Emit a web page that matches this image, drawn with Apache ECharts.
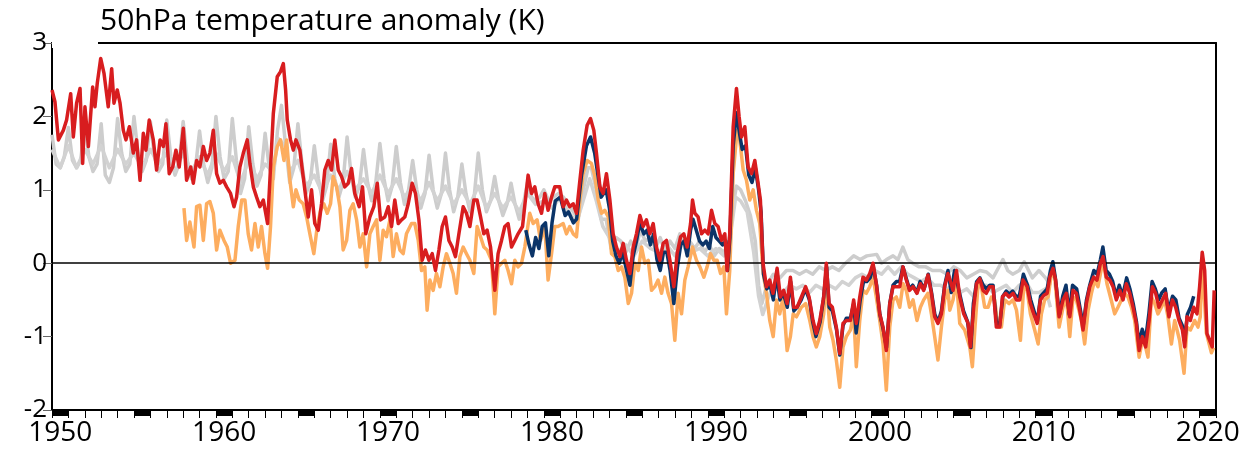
<!DOCTYPE html>
<html>
<head>
<meta charset="utf-8">
<script src="https://cdn.jsdelivr.net/npm/echarts@6/dist/echarts.min.js"></script>
<style>
  html, body { margin: 0; padding: 0; background: #fff; }
  #chart { width: 1243px; height: 459px; }
</style>
</head>
<body>
<div id="chart"></div>
<script>
// [decimal year, anomaly K]
// reanalysis with strong seasonal cycle
const grayRefA = [
  [1950.0,1.75],[1950.25,1.35],[1950.5,1.3],[1950.75,1.45],
  [1951.0,1.85],[1951.25,1.4],[1951.5,1.3],[1951.75,1.4],
  [1952.0,1.9],[1952.25,1.45],[1952.5,1.25],[1952.75,1.35],
  [1953.0,1.9],[1953.25,1.2],[1953.5,1.1],[1953.75,1.3],
  [1954.0,1.97],[1954.25,1.5],[1954.5,1.25],[1954.75,1.35],
  [1955.0,2.0],[1955.25,1.5],[1955.5,1.25],[1955.75,1.4],
  [1956.0,1.93],[1956.25,1.45],[1956.5,1.25],[1956.75,1.35],
  [1957.0,1.95],[1957.25,1.45],[1957.5,1.2],[1957.75,1.35],
  [1958.0,1.93],[1958.25,1.4],[1958.5,1.15],[1958.75,1.3],
  [1959.0,1.8],[1959.25,1.35],[1959.5,1.1],[1959.75,1.3],
  [1960.0,2.0],[1960.25,1.45],[1960.5,1.15],[1960.75,1.25],
  [1961.0,1.97],[1961.25,1.4],[1961.5,0.95],[1961.75,1.15],
  [1962.0,1.86],[1962.25,1.35],[1962.5,1.05],[1962.75,1.2],
  [1963.0,1.77],[1963.25,1.3],[1963.5,1.15],[1963.75,1.8],
  [1964.0,2.15],[1964.25,1.6],[1964.5,1.1],[1964.75,1.3],
  [1965.0,1.9],[1965.25,1.35],[1965.5,0.95],[1965.75,1.1],
  [1966.0,1.6],[1966.25,1.15],[1966.5,0.85],[1966.75,1.05],
  [1967.0,1.62],[1967.25,1.15],[1967.5,0.9],[1967.75,1.1],
  [1968.0,1.72],[1968.25,1.2],[1968.5,0.9],[1968.75,1.05],
  [1969.0,1.55],[1969.25,1.1],[1969.5,0.85],[1969.75,1.1],
  [1970.0,1.63],[1970.25,1.15],[1970.5,0.85],[1970.75,1.05],
  [1971.0,1.59],[1971.25,1.1],[1971.5,0.8],[1971.75,1.0],
  [1972.0,1.4],[1972.25,1.0],[1972.5,0.75],[1972.75,0.95],
  [1973.0,1.47],[1973.25,1.0],[1973.5,0.75],[1973.75,0.95],
  [1974.0,1.5],[1974.25,1.0],[1974.5,0.7],[1974.75,0.9],
  [1975.0,1.35],[1975.25,0.95],[1975.5,0.7],[1975.75,0.9],
  [1976.0,1.5],[1976.25,1.0],[1976.5,0.7],[1976.75,0.85],
  [1977.0,1.18],[1977.25,0.85],[1977.5,0.65],[1977.75,0.8],
  [1978.0,1.09],[1978.25,0.8],[1978.5,0.6],[1978.75,0.8],
  [1979.0,1.1],[1979.25,0.9],[1979.5,0.85],[1979.75,0.9],
  [1980.0,1.0],[1980.3,0.85],[1980.6,0.9],[1980.9,0.95],
  [1981.2,0.9],[1981.5,0.8],[1981.8,0.7],[1982.1,0.6],
  [1982.4,1.0],[1982.7,1.3],[1982.9,1.3],[1983.2,1.0],
  [1983.5,0.6],[1983.8,0.6],[1984.1,0.2],[1984.4,0.35],
  [1984.7,0.3],[1985.0,0.15],[1985.3,0.3],[1985.6,0.2],
  [1985.9,0.45],[1986.2,0.3],[1986.5,0.35],[1986.8,0.2],
  [1987.1,0.35],[1987.4,0.15],[1987.7,0.3],[1988.0,0.2],
  [1988.3,0.4],[1988.6,0.2],[1988.9,0.3],[1989.2,0.2],
  [1989.5,0.3],[1989.8,0.15],[1990.1,0.25],[1990.4,0.1],
  [1990.7,0.2],[1991.0,0.15],[1991.3,0.3],[1991.55,0.8],
  [1991.75,1.05],[1992.0,1.0],[1992.3,0.85],[1992.6,0.65],
  [1992.9,0.3],[1993.1,-0.3],[1993.3,-0.55],[1993.6,-0.3],
  [1994.0,-0.15],[1994.4,-0.2],[1994.8,-0.1],[1995.2,-0.1],
  [1995.6,-0.15],[1996.0,-0.1],[1996.4,-0.15],[1996.8,-0.05],
  [1997.2,-0.1],[1997.6,-0.05],[1998.0,-0.1],[1998.4,0.0],
  [1998.9,0.1],[1999.3,0.05],[1999.7,0.1],[2000.3,0.12],
  [2000.6,0.0],[2000.9,0.05],[2001.3,0.1],[2001.6,0.05],
  [2001.9,0.22],[2002.2,0.05],[2002.5,0.0],[2002.9,-0.05],
  [2003.3,-0.05],[2003.7,-0.1],[2004.2,-0.1],[2004.6,-0.15],
  [2005.0,-0.05],[2005.4,-0.1],[2005.8,-0.2],[2006.2,-0.15],
  [2006.6,-0.1],[2007.0,-0.12],[2007.4,-0.2],[2008.0,0.05],
  [2008.3,-0.1],[2008.6,-0.15],[2009.0,-0.1],[2009.3,0.02],
  [2009.8,-0.2],[2010.2,-0.1],[2010.6,-0.2],[2010.9,-0.3]
];

// second reanalysis, smoother
const grayRefB = [
  [1950.0,1.55],[1950.5,1.3],[1951.0,1.6],[1951.5,1.3],[1952.0,1.55],
  [1952.5,1.35],[1953.0,1.6],[1953.5,1.3],[1954.0,1.55],[1954.5,1.35],
  [1955.0,1.5],[1955.5,1.3],[1956.0,1.55],[1956.5,1.35],[1957.0,1.5],
  [1957.5,1.25],[1958.0,1.5],[1958.5,1.25],[1959.0,1.45],[1959.5,1.2],
  [1960.0,1.5],[1960.5,1.25],[1961.0,1.45],[1961.5,1.1],[1962.0,1.4],
  [1962.5,1.15],[1963.0,1.35],[1963.5,1.25],[1963.8,1.7],[1964.2,1.6],
  [1964.5,1.25],[1965.0,1.4],[1965.5,1.05],[1966.0,1.2],[1966.5,0.95],
  [1967.0,1.2],[1967.5,1.0],[1968.0,1.25],[1968.5,1.0],[1969.0,1.15],
  [1969.5,0.95],[1970.0,1.2],[1970.5,0.95],[1971.0,1.15],[1971.5,0.9],
  [1972.0,1.05],[1972.5,0.85],[1973.0,1.1],[1973.5,0.85],[1974.0,1.05],
  [1974.5,0.8],[1975.0,1.0],[1975.5,0.8],[1976.0,1.05],[1976.5,0.75],
  [1977.0,0.95],[1977.5,0.75],[1978.0,0.9],[1978.5,0.7],[1979.0,0.95],
  [1979.5,0.8],[1980.0,0.85],[1980.5,0.75],[1981.0,0.9],[1981.5,0.7],
  [1982.0,0.55],[1982.4,0.85],[1982.8,1.15],[1983.2,0.85],[1983.6,0.5],
  [1984.0,0.35],[1984.5,0.15],[1985.0,0.25],[1985.5,0.1],[1986.0,0.3],
  [1986.5,0.2],[1987.0,0.15],[1987.5,0.25],[1988.0,0.1],[1988.5,0.3],
  [1989.0,0.15],[1989.5,0.2],[1990.0,0.1],[1990.5,0.2],[1991.0,0.1],
  [1991.4,0.4],[1991.7,0.9],[1992.0,0.85],[1992.4,0.7],[1992.8,0.15],
  [1993.1,-0.45],[1993.35,-0.7],[1993.8,-0.4],[1994.2,-0.35],[1994.6,-0.4],
  [1995.0,-0.3],[1995.4,-0.35],[1995.8,-0.3],[1996.2,-0.4],[1996.6,-0.3],
  [1997.0,-0.35],[1997.4,-0.3],[1997.8,-0.35],[1998.2,-0.25],[1998.6,-0.3],
  [1999.0,-0.2],[1999.4,-0.15],[1999.8,-0.2],[2000.2,-0.1],[2000.6,-0.15],
  [2001.0,-0.05],[2001.4,-0.15],[2001.8,-0.05],[2002.2,-0.15],[2002.6,-0.2],
  [2003.0,-0.25],[2003.4,-0.2],[2003.8,-0.3],[2004.2,-0.3],[2004.6,-0.35],
  [2005.0,-0.3],[2005.4,-0.4],[2005.8,-0.35],[2006.2,-0.45],[2006.6,-0.3],
  [2007.0,-0.3],[2007.4,-0.4],[2007.8,-0.35],[2008.2,-0.3],[2008.6,-0.4],
  [2009.0,-0.3],[2009.4,-0.25],[2009.8,-0.4],[2010.2,-0.4],[2010.6,-0.35],
  [2010.9,-0.6]
];

const orangeSeries = [
  [1958.05,0.75],[1958.21,0.31],[1958.41,0.56],[1958.66,0.22],[1958.82,0.77],
  [1959.02,0.79],[1959.23,0.31],[1959.43,0.81],[1959.63,0.84],[1959.84,0.68],
  [1960.04,0.18],[1960.24,0.45],[1960.49,0.31],[1960.69,0.22],[1960.89,0.0],
  [1961.16,0.04],[1961.36,0.5],[1961.57,0.86],[1961.77,0.86],[1961.97,0.4],
  [1962.17,0.18],[1962.38,0.54],[1962.58,0.22],[1962.78,0.5],[1962.99,0.13],
  [1963.15,-0.07],[1963.33,0.5],[1963.5,1.31],[1963.74,1.59],[1963.94,1.68],
  [1964.15,1.4],[1964.31,1.68],[1964.51,1.13],[1964.72,0.77],[1964.88,1.0],
  [1965.08,0.86],[1965.32,0.81],[1965.53,0.63],[1965.73,0.4],[1965.97,0.13],
  [1966.18,0.5],[1966.38,0.72],[1966.58,0.81],[1966.79,0.68],[1966.99,0.81],
  [1967.15,1.18],[1967.36,1.04],[1967.56,0.77],[1967.76,0.18],[1967.97,0.31],
  [1968.17,0.72],[1968.37,0.81],[1968.58,0.59],[1968.78,0.22],[1968.98,0.4],
  [1969.19,-0.05],[1969.39,0.4],[1969.59,0.5],[1969.8,0.59],[1970.0,0.04],
  [1970.2,0.45],[1970.4,0.36],[1970.61,0.59],[1970.81,0.09],[1971.01,0.4],
  [1971.22,0.18],[1971.42,0.13],[1971.62,0.4],[1971.93,0.54],[1972.13,0.54],
  [1972.34,0.31],[1972.54,-0.1],[1972.74,-0.05],[1972.88,-0.64],[1973.05,-0.23],
  [1973.25,-0.37],[1973.45,-0.14],[1973.66,-0.32],[1973.86,-0.05],[1974.06,0.13],
  [1974.27,0.0],[1974.47,-0.14],[1974.67,-0.41],[1974.88,0.09],[1975.08,0.22],
  [1975.28,0.13],[1975.49,0.04],[1975.73,-0.14],[1975.93,0.5],[1976.14,0.36],
  [1976.34,0.22],[1976.54,0.18],[1976.81,0.04],[1977.01,-0.69],[1977.21,-0.05],
  [1977.42,0.0],[1977.62,0.04],[1977.82,-0.1],[1978.03,-0.28],[1978.23,0.04],
  [1978.43,-0.05],[1978.64,0.0],[1978.84,0.22],[1979.14,0.68],[1979.35,0.54],
  [1979.59,0.59],[1979.8,0.31],[1980.06,0.5],[1980.26,-0.23],[1980.47,0.13],
  [1980.67,0.5],[1980.87,0.5],[1981.18,0.54],[1981.38,0.4],[1981.58,0.5],
  [1981.79,0.4],[1981.99,0.36],[1982.2,0.86],[1982.4,1.22],[1982.64,1.4],
  [1982.9,1.36],[1983.1,1.2],[1983.32,0.86],[1983.52,0.68],[1983.72,0.72],
  [1983.93,0.63],[1984.13,0.13],[1984.33,0.09],[1984.54,-0.1],[1984.74,-0.05],
  [1984.94,-0.19],[1985.15,-0.55],[1985.35,-0.41],[1985.55,0.0],[1985.76,-0.1],
  [1985.96,0.22],[1986.16,0.0],[1986.37,0.04],[1986.57,-0.37],[1986.77,-0.32],
  [1986.97,-0.23],[1987.18,-0.41],[1987.38,-0.19],[1987.58,-0.41],[1987.79,-0.55],
  [1987.99,-1.05],[1988.19,-0.41],[1988.4,-0.69],[1988.6,-0.23],[1988.8,-0.05],
  [1989.07,0.22],[1989.31,0.04],[1989.52,-0.05],[1989.76,-0.19],[1989.96,-0.05],
  [1990.17,0.13],[1990.37,0.04],[1990.57,0.04],[1990.78,-0.14],[1990.98,-0.05],
  [1991.14,-0.69],[1991.34,-0.1],[1991.55,1.22],[1991.79,1.81],[1991.95,1.68],
  [1992.16,1.27],[1992.36,1.13],[1992.56,0.86],[1992.77,1.0],[1992.97,0.72],
  [1993.17,0.54],[1993.38,-0.14],[1993.58,-0.41],[1993.78,-0.78],[1993.99,-1.0],
  [1994.19,-0.5],[1994.39,-0.69],[1994.6,-0.46],[1994.84,-1.19],[1995.04,-1.0],
  [1995.21,-0.69],[1995.41,-0.73],[1995.61,-0.64],[1995.71,-0.6],[1995.97,-0.55],
  [1996.22,-0.78],[1996.42,-1.0],[1996.62,-1.14],[1996.83,-1.0],[1997.07,-0.69],
  [1997.23,-0.23],[1997.44,-0.87],[1997.64,-1.05],[1997.84,-1.32],[1998.05,-1.69],
  [1998.25,-1.14],[1998.45,-1.0],[1998.7,-0.91],[1998.9,-0.69],[1999.06,-1.41],
  [1999.27,-0.78],[1999.47,-0.37],[1999.67,-0.41],[1999.88,-0.32],[2000.08,-0.19],
  [2000.28,-0.46],[2000.49,-0.78],[2000.69,-1.1],[2000.89,-1.73],[2001.1,-0.87],
  [2001.3,-0.5],[2001.5,-0.46],[2001.71,-0.6],[2001.91,-0.28],[2002.11,-0.37],
  [2002.31,-0.6],[2002.52,-0.5],[2002.76,-0.78],[2002.97,-0.6],[2003.17,-0.5],
  [2003.43,-0.41],[2003.64,-0.69],[2003.84,-1.0],[2004.04,-1.32],[2004.25,-0.87],
  [2004.45,-0.5],[2004.65,-0.37],[2004.76,-0.64],[2004.96,-0.5],[2005.17,-0.23],
  [2005.37,-0.82],[2005.67,-0.91],[2005.98,-1.14],[2006.14,-1.41],[2006.3,-0.87],
  [2006.49,-0.28],[2006.69,-0.32],[2006.89,-0.6],[2007.1,-0.6],[2007.3,-0.46],
  [2007.5,-0.5],[2007.71,-0.87],[2007.91,-0.87],[2008.11,-0.5],[2008.38,-0.55],
  [2008.62,-0.5],[2008.83,-0.64],[2009.07,-1.05],[2009.27,-0.32],[2009.48,-0.37],
  [2009.68,-0.69],[2009.94,-0.91],[2010.15,-1.1],[2010.35,-0.69],[2010.55,-0.5],
  [2010.76,-0.46],[2010.96,-0.14],[2011.16,-0.19],[2011.43,-0.87],[2011.67,-0.6],
  [2011.87,-0.46],[2012.08,-1.0],[2012.28,-0.46],[2012.48,-0.5],[2012.79,-0.78],
  [2012.99,-1.1],[2013.2,-0.64],[2013.4,-0.41],[2013.6,-0.23],[2013.8,-0.32],
  [2014.11,0.04],[2014.35,-0.28],[2014.56,-0.46],[2014.82,-0.69],[2015.02,-0.6],
  [2015.23,-0.5],[2015.43,-0.41],[2015.63,-0.46],[2015.84,-0.6],[2016.04,-0.78],
  [2016.31,-1.28],[2016.55,-1.0],[2016.85,-1.28],[2017.06,-0.46],[2017.26,-0.55],
  [2017.46,-0.69],[2017.67,-0.6],[2017.87,-0.5],[2018.07,-0.73],[2018.28,-1.1],
  [2018.48,-0.78],[2018.78,-1.05],[2019.05,-1.5],[2019.23,-0.87],[2019.44,-0.91],
  [2019.7,-0.78],[2019.9,-0.87],[2020.04,-0.73],[2020.16,0.05],[2020.41,-0.95],
  [2020.72,-1.22],[2020.86,-1.15]
];

const navySeries = [
  [1978.9,0.45],[1979.1,0.25],[1979.3,0.1],[1979.5,0.35],[1979.7,0.2],
  [1979.9,0.5],[1980.1,0.55],[1980.3,0.1],[1980.5,0.55],[1980.7,0.85],
  [1981.0,0.9],[1981.3,0.65],[1981.5,0.7],[1981.8,0.55],[1982.0,0.6],
  [1982.3,1.2],[1982.6,1.6],[1982.85,1.72],[1983.1,1.5],[1983.3,1.2],
  [1983.5,0.9],[1983.8,1.0],[1984.0,0.75],[1984.2,0.3],[1984.4,0.1],
  [1984.6,0.0],[1984.8,0.15],[1985.0,-0.05],[1985.25,-0.3],[1985.45,0.1],
  [1985.65,0.3],[1985.85,0.55],[1986.1,0.4],[1986.3,0.45],[1986.5,0.25],
  [1986.7,0.4],[1986.9,0.05],[1987.1,-0.1],[1987.3,0.15],[1987.5,0.15],
  [1987.7,-0.1],[1987.93,-0.55],[1988.15,-0.05],[1988.35,0.25],[1988.55,0.3],
  [1988.75,0.1],[1988.95,0.45],[1989.1,0.6],[1989.3,0.45],[1989.5,0.3],
  [1989.7,0.25],[1989.9,0.3],[1990.1,0.2],[1990.3,0.5],[1990.5,0.35],
  [1990.7,0.3],[1990.9,0.25],[1991.1,0.3],[1991.2,-0.1],[1991.35,0.35],
  [1991.55,1.6],[1991.75,2.05],[1991.95,1.75],[1992.1,1.55],[1992.3,1.6],
  [1992.5,1.2],[1992.7,1.1],[1992.9,1.3],[1993.1,1.0],[1993.25,0.7],
  [1993.4,-0.15],[1993.6,-0.35],[1993.8,-0.3],[1994.0,-0.5],[1994.2,-0.15],
  [1994.4,-0.5],[1994.6,-0.4],[1994.85,-0.6],[1995.05,-0.25],[1995.25,-0.65],
  [1995.45,-0.6],[1995.7,-0.5],[1995.95,-0.35],[1996.2,-0.5],[1996.4,-0.8],
  [1996.6,-1.0],[1996.85,-0.8],[1997.05,-0.5],[1997.25,-0.05],[1997.4,-0.6],
  [1997.6,-0.65],[1997.85,-0.9],[1998.05,-1.25],[1998.25,-0.85],[1998.45,-0.75],
  [1998.7,-0.75],[1998.9,-0.55],[1999.05,-0.95],[1999.3,-0.5],[1999.5,-0.25],
  [1999.7,-0.25],[1999.9,-0.2],[2000.1,-0.05],[2000.3,-0.3],[2000.5,-0.7],
  [2000.7,-0.9],[2000.9,-1.15],[2001.1,-0.55],[2001.3,-0.3],[2001.5,-0.25],
  [2001.7,-0.25],[2001.9,-0.05],[2002.1,-0.2],[2002.3,-0.35],[2002.5,-0.3],
  [2002.75,-0.4],[2002.95,-0.25],[2003.2,-0.35],[2003.45,-0.15],[2003.65,-0.4],
  [2003.85,-0.7],[2004.05,-0.8],[2004.25,-0.65],[2004.45,-0.3],[2004.65,-0.1],
  [2004.85,-0.4],[2005.05,-0.1],[2005.35,-0.4],[2005.6,-0.65],[2005.85,-0.8],
  [2006.05,-1.15],[2006.2,-0.55],[2006.4,-0.25],[2006.6,-0.2],[2006.8,-0.3],
  [2007.0,-0.35],[2007.2,-0.3],[2007.4,-0.3],[2007.6,-0.8],[2007.8,-0.85],
  [2008.0,-0.45],[2008.2,-0.38],[2008.4,-0.42],[2008.6,-0.38],[2008.8,-0.45],
  [2009.0,-0.45],[2009.25,-0.15],[2009.5,-0.3],[2009.7,-0.5],[2009.9,-0.65],
  [2010.1,-0.8],[2010.3,-0.45],[2010.5,-0.4],[2010.7,-0.35],[2010.9,-0.1],
  [2011.05,0.02],[2011.2,-0.2],[2011.45,-0.7],[2011.65,-0.45],[2011.85,-0.3],
  [2012.05,-0.7],[2012.25,-0.3],[2012.5,-0.35],[2012.7,-0.6],[2012.9,-0.85],
  [2013.1,-0.5],[2013.3,-0.3],[2013.55,-0.1],[2013.75,-0.15],[2013.95,0.05],
  [2014.1,0.22],[2014.3,-0.1],[2014.5,-0.15],[2014.7,-0.25],[2014.9,-0.45],
  [2015.1,-0.3],[2015.3,-0.45],[2015.55,-0.2],[2015.75,-0.35],[2015.95,-0.55],
  [2016.15,-0.8],[2016.3,-1.1],[2016.5,-0.9],[2016.7,-1.05],[2016.9,-0.7],
  [2017.1,-0.25],[2017.3,-0.35],[2017.5,-0.5],[2017.7,-0.4],[2017.9,-0.35],
  [2018.1,-0.65],[2018.35,-0.45],[2018.55,-0.5],[2018.75,-0.75],[2018.95,-0.85],
  [2019.1,-1.05],[2019.25,-0.7],[2019.45,-0.6],[2019.64,-0.45]
];

const redSeries = [
  [1950.0,2.36],[1950.18,2.2],[1950.39,1.68],[1950.69,1.81],[1950.89,1.95],
  [1951.14,2.31],[1951.3,1.72],[1951.5,2.18],[1951.71,2.38],[1951.87,1.36],
  [1952.01,2.13],[1952.22,1.59],[1952.48,2.4],[1952.62,2.13],[1952.76,2.45],
  [1952.97,2.79],[1953.17,2.59],[1953.43,2.13],[1953.64,2.65],[1953.78,2.18],
  [1953.98,2.36],[1954.15,2.18],[1954.35,1.81],[1954.51,1.68],[1954.72,1.86],
  [1954.96,1.5],[1955.16,1.68],[1955.37,1.13],[1955.57,1.77],[1955.73,1.54],
  [1955.93,1.95],[1956.18,1.68],[1956.38,1.27],[1956.59,1.68],[1956.79,1.59],
  [1956.95,1.9],[1957.15,1.22],[1957.36,1.31],[1957.56,1.54],[1957.76,1.31],
  [1958.01,1.84],[1958.21,1.13],[1958.46,1.31],[1958.62,1.09],[1958.82,1.4],
  [1959.02,1.31],[1959.23,1.59],[1959.43,1.4],[1959.63,1.5],[1959.84,1.81],
  [1960.04,1.22],[1960.24,1.09],[1960.45,1.13],[1960.65,1.04],[1960.89,0.95],
  [1961.1,0.77],[1961.26,0.9],[1961.46,1.31],[1961.67,1.5],[1961.91,1.68],
  [1962.07,1.36],[1962.28,1.04],[1962.48,0.9],[1962.68,0.77],[1962.89,0.86],
  [1963.15,0.54],[1963.29,1.13],[1963.5,2.04],[1963.74,2.54],[1963.94,2.61],
  [1964.11,2.72],[1964.25,2.36],[1964.35,1.95],[1964.55,1.68],[1964.72,1.54],
  [1964.88,1.68],[1965.12,1.54],[1965.32,1.18],[1965.63,0.63],[1965.83,1.0],
  [1966.03,0.54],[1966.24,0.45],[1966.44,0.81],[1966.64,1.27],[1966.85,1.4],
  [1967.05,1.27],[1967.25,1.68],[1967.46,1.27],[1967.66,1.18],[1967.86,1.04],
  [1968.07,1.09],[1968.27,1.29],[1968.47,0.95],[1968.74,0.77],[1968.94,1.04],
  [1969.14,0.4],[1969.39,0.63],[1969.63,0.77],[1969.84,1.09],[1970.04,0.59],
  [1970.3,0.63],[1970.51,0.77],[1970.71,0.5],[1970.91,0.86],[1971.12,0.54],
  [1971.32,0.59],[1971.52,0.63],[1971.73,0.81],[1971.97,1.09],[1972.17,0.95],
  [1972.38,0.59],[1972.58,0.04],[1972.78,0.18],[1972.99,0.04],[1973.19,0.13],
  [1973.39,-0.1],[1973.6,0.18],[1973.8,0.5],[1974.0,0.63],[1974.21,0.31],
  [1974.41,0.22],[1974.61,0.09],[1974.82,0.4],[1975.08,0.77],[1975.28,0.68],
  [1975.49,0.5],[1975.73,0.86],[1975.93,0.86],[1976.14,0.63],[1976.34,0.4],
  [1976.54,0.45],[1976.75,0.22],[1977.01,-0.37],[1977.21,0.13],[1977.42,0.31],
  [1977.62,0.5],[1977.82,0.54],[1978.03,0.22],[1978.23,0.31],[1978.43,0.4],
  [1978.7,0.5],[1979.04,1.2],[1979.25,0.95],[1979.45,1.04],[1979.65,0.81],
  [1979.86,0.68],[1980.06,0.95],[1980.26,0.72],[1980.47,0.9],[1980.67,1.04],
  [1980.97,1.04],[1981.18,0.77],[1981.38,0.86],[1981.58,0.77],[1981.79,0.81],
  [1981.99,0.68],[1982.2,1.13],[1982.4,1.54],[1982.64,1.88],[1982.85,1.97],
  [1983.05,1.81],[1983.21,1.5],[1983.42,1.04],[1983.62,0.95],[1983.82,1.22],
  [1984.03,0.86],[1984.23,0.4],[1984.43,0.22],[1984.64,0.09],[1984.84,0.27],
  [1985.04,0.04],[1985.25,-0.14],[1985.45,0.22],[1985.65,0.4],[1985.86,0.65],
  [1986.06,0.5],[1986.26,0.59],[1986.47,0.4],[1986.67,0.54],[1986.87,0.22],
  [1987.08,0.04],[1987.28,0.27],[1987.48,0.31],[1987.69,0.04],[1987.93,-0.32],
  [1988.13,0.13],[1988.34,0.36],[1988.54,0.4],[1988.74,0.22],[1988.95,0.54],
  [1989.07,0.86],[1989.21,0.68],[1989.41,0.63],[1989.62,0.4],[1989.82,0.45],
  [1990.02,0.4],[1990.23,0.72],[1990.43,0.54],[1990.63,0.5],[1990.84,0.31],
  [1991.04,0.4],[1991.18,-0.1],[1991.34,0.4],[1991.55,1.86],[1991.75,2.38],
  [1991.91,2.0],[1992.06,1.72],[1992.26,1.86],[1992.46,1.31],[1992.67,1.22],
  [1992.87,1.4],[1993.07,1.09],[1993.21,0.86],[1993.37,0.0],[1993.58,-0.32],
  [1993.78,-0.23],[1993.98,-0.41],[1994.23,-0.07],[1994.43,-0.46],[1994.63,-0.37],
  [1994.84,-0.55],[1995.04,-0.19],[1995.24,-0.6],[1995.45,-0.6],[1995.71,-0.46],
  [1995.97,-0.32],[1996.18,-0.46],[1996.42,-0.78],[1996.62,-0.96],[1996.83,-0.78],
  [1997.07,-0.46],[1997.23,0.0],[1997.4,-0.55],[1997.6,-0.6],[1997.84,-0.87],
  [1998.05,-1.23],[1998.25,-0.82],[1998.45,-0.78],[1998.7,-0.78],[1998.9,-0.5],
  [1999.06,-0.82],[1999.27,-0.46],[1999.47,-0.19],[1999.67,-0.23],[1999.88,-0.14],
  [2000.08,0.0],[2000.28,-0.28],[2000.49,-0.69],[2000.69,-0.87],[2000.89,-1.19],
  [2001.1,-0.55],[2001.3,-0.32],[2001.5,-0.32],[2001.71,-0.32],[2001.91,-0.05],
  [2002.11,-0.23],[2002.31,-0.37],[2002.52,-0.32],[2002.76,-0.41],[2002.97,-0.28],
  [2003.17,-0.37],[2003.43,-0.16],[2003.64,-0.41],[2003.84,-0.73],[2004.04,-0.82],
  [2004.25,-0.69],[2004.45,-0.32],[2004.65,-0.14],[2004.8,-0.25],[2004.96,-0.37],
  [2005.17,-0.1],[2005.37,-0.46],[2005.61,-0.69],[2005.88,-0.82],[2006.02,-1.14],
  [2006.22,-0.6],[2006.39,-0.28],[2006.59,-0.21],[2006.79,-0.37],[2006.99,-0.41],
  [2007.2,-0.32],[2007.4,-0.32],[2007.6,-0.87],[2007.81,-0.87],[2007.97,-0.46],
  [2008.17,-0.41],[2008.38,-0.46],[2008.62,-0.41],[2008.83,-0.5],[2009.03,-0.5],
  [2009.23,-0.23],[2009.48,-0.32],[2009.68,-0.55],[2009.88,-0.69],[2010.09,-0.82],
  [2010.29,-0.5],[2010.49,-0.44],[2010.7,-0.41],[2010.86,-0.19],[2011.06,-0.07],
  [2011.22,-0.23],[2011.43,-0.73],[2011.67,-0.5],[2011.87,-0.41],[2012.08,-0.73],
  [2012.28,-0.37],[2012.48,-0.41],[2012.69,-0.64],[2012.89,-0.91],[2013.09,-0.55],
  [2013.3,-0.32],[2013.54,-0.19],[2013.74,-0.23],[2013.95,0.0],[2014.11,0.09],
  [2014.31,-0.19],[2014.52,-0.23],[2014.72,-0.32],[2014.92,-0.5],[2015.13,-0.37],
  [2015.33,-0.5],[2015.53,-0.28],[2015.74,-0.41],[2015.94,-0.6],[2016.14,-0.82],
  [2016.31,-1.19],[2016.51,-1.0],[2016.71,-1.14],[2016.92,-0.78],[2017.12,-0.32],
  [2017.32,-0.41],[2017.52,-0.6],[2017.73,-0.5],[2017.93,-0.41],[2018.13,-0.73],
  [2018.34,-0.5],[2018.54,-0.6],[2018.74,-0.78],[2018.95,-0.91],[2019.09,-1.14],
  [2019.23,-0.73],[2019.44,-0.78],[2019.64,-0.6],[2019.84,-0.69],[2020.0,-0.32],
  [2020.16,0.15],[2020.31,-0.1],[2020.45,-0.96],[2020.61,-1.05],[2020.77,-1.14],
  [2020.89,-0.37]
];

const yTicks = [-2, -1, 0, 1, 2, 3];
// black one-year blocks start at these years; decades get a label under their block
const blockYears = [1950, 1955, 1960, 1965, 1970, 1975, 1980, 1985, 1990, 1995, 2000, 2005, 2010, 2015, 2020];
const decadeYears = [1950, 1960, 1970, 1980, 1990, 2000, 2010, 2020];

const chart = echarts.init(document.getElementById('chart'));

function lineSeries(name, data, color, z) {
  return {
    name: name,
    type: 'line',
    data: data,
    xAxisIndex: 0,
    yAxisIndex: 0,
    showSymbol: false,
    symbol: 'none',
    z: z,
    lineStyle: { color: color, width: 3.5, join: 'round' },
  }
}

const grayA = lineSeries('grayA', grayRefA, '#cdcdcd', 2)
grayA.markLine = {
  silent: true,
  symbol: 'none',
  label: { show: false },
  lineStyle: { color: '#000', width: 1.5, type: 'solid' },
  data: [{ yAxis: 0 }],
}

const options = {
  animation: false,
  title: {
    // the white "gap" piece hides the frame's top-left corner, as in the original
    text: '{gap|}{t|50hPa temperature anomaly (K)}',
    left: 52,
    top: 0,
    padding: 0,
    textStyle: {
      fontWeight: 'normal',
      rich: {
        gap: { width: 46, height: 48, backgroundColor: '#fff' },
        t: {
          fontFamily: 'Open Sans',
          fontSize: 30,
          fontWeight: 'normal',
          color: '#000',
          verticalAlign: 'top',
          padding: [6, 0, 0, 2],
        },
      },
    },
  },
  grid: { left: 52, right: 27, top: 43, bottom: 49, containLabel: false },
  xAxis: [
    {
      // yearly minor ticks
      type: 'value',
      min: 1950,
      max: 2021,
      interval: 1,
      position: 'bottom',
      axisLine: { onZero: false, lineStyle: { color: '#000', width: 2 } },
      axisTick: { length: 8, lineStyle: { color: '#000', width: 1 } },
      axisLabel: { show: false },
      splitLine: { show: false },
    },
    {
      // black 5-year blocks + decade labels, centred half a year after the year
      type: 'value',
      min: 1950,
      max: 2021,
      position: 'bottom',
      axisLine: { show: false, onZero: false },
      axisTick: {
        length: 6,
        customValues: blockYears.map((y) => y + 0.5),
        lineStyle: { color: '#000', width: 16 },
      },
      axisLabel: {
        margin: 9,
        customValues: decadeYears.map((y) => y + 0.5),
        fontFamily: 'Open Sans',
        fontSize: 28,
        color: '#000',
        formatter: (v) => String(Math.floor(v)),
      },
      splitLine: { show: false },
    },
    {
      type: 'value',
      min: 1950,
      max: 2021,
      position: 'top',
      axisLine: { onZero: false, lineStyle: { color: '#000', width: 2 } },
      axisTick: { show: false },
      axisLabel: { show: false },
      splitLine: { show: false },
    },
  ],
  yAxis: [
    {
      type: 'value',
      min: yTicks[0],
      max: yTicks[yTicks.length - 1],
      interval: 1,
      axisLine: { show: true, onZero: false, lineStyle: { color: '#000', width: 2 } },
      axisTick: { show: true, length: 9, lineStyle: { color: '#666', width: 1 } },
      axisLabel: {
        margin: 5,
        fontFamily: 'Open Sans',
        fontSize: 26,
        color: '#000',
      },
      splitLine: { show: false },
    },
    {
      type: 'value',
      min: yTicks[0],
      max: yTicks[yTicks.length - 1],
      position: 'right',
      axisLine: { show: true, onZero: false, lineStyle: { color: '#000', width: 2 } },
      axisTick: { show: false },
      axisLabel: { show: false },
      splitLine: { show: false },
    },
  ],
  series: [
    grayA,
    lineSeries('grayB', grayRefB, '#d2d2d2', 2),
    lineSeries('orange', orangeSeries, '#fdad5f', 3),
    lineSeries('navy', navySeries, '#0b3468', 4),
    lineSeries('red', redSeries, '#d81d1f', 5),
  ],
}

chart.setOption(options)
</script>
</body>
</html>
